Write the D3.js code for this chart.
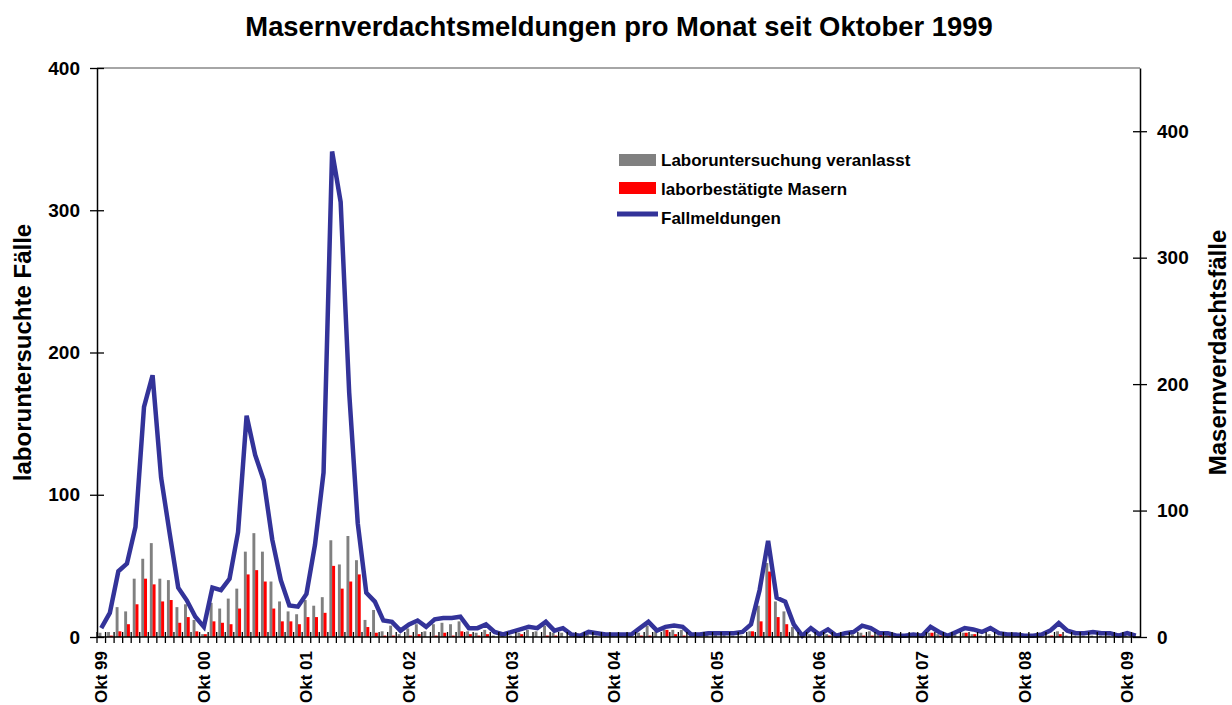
<!DOCTYPE html>
<html>
<head>
<meta charset="utf-8">
<script src="https://cdn.jsdelivr.net/npm/d3@7/dist/d3.min.js"></script>
<style>
  body { margin: 0; background: #fff; }
  svg { display: block; font-family: "Liberation Sans", Arial, sans-serif; font-weight: bold; }
</style>
</head>
<body>
<svg id="chart" width="1232" height="705"></svg>
<script>
// tick labels on the x axis (every October)
const tickLabels = ["Okt 99", "Okt 00", "Okt 01", "Okt 02", "Okt 03", "Okt 04",
  "Okt 05", "Okt 06", "Okt 07", "Okt 08", "Okt 09"];

// Laboruntersuchung veranlasst (left axis)
const labTests = [3, 3.5, 21, 18, 41, 55, 66, 41, 40, 21, 23, 12,
  2, 24, 20, 27, 34, 60, 73, 60, 39, 25, 18, 16,
  26, 22, 28, 68, 51, 71, 54, 12, 19, 4, 8, 2,
  6, 9, 4, 9, 10, 9, 11, 4, 3, 5, 1, 1,
  1, 3, 5, 4, 8, 3, 3, 1, 2, 2, 1, 1,
  1, 1, 1, 3, 8, 4, 5, 5, 5, 1, 1, 2,
  2, 2, 1, 1, 4, 22, 52, 25, 18, 7, 1, 2,
  1, 2, 2, 1, 2, 3, 4, 3, 2, 1, 1, 2,
  1, 3, 2, 1, 2, 3, 2, 1, 2, 1, 1, 1,
  1, 1, 1, 1, 4, 1, 1, 1, 1, 1, 1, 1,
  1, 1];

// laborbestätigte Masern (left axis)
const labConfirmed = [0, 1, 4, 9, 23, 41, 37, 25, 26, 10, 14, 4,
  2, 11, 10, 9, 20, 44, 47, 39, 20, 11, 11, 9,
  14, 14, 17, 50, 34, 39, 44, 7, 3, 1, 1, 0,
  1, 2, 0, 1, 3, 1, 4, 2, 1, 2, 0, 0,
  0, 2, 0, 0, 1, 1, 0, 0, 0, 0, 0, 0,
  0, 0, 0, 1, 1, 0, 5, 2, 1, 0, 0, 0,
  0, 0, 0, 0, 4, 11, 46, 14, 9, 0, 0, 0,
  0, 1, 1, 0, 0, 1, 1, 3, 1, 0, 0, 0,
  0, 3, 1, 0, 0, 3, 2, 0, 0, 0, 0, 0,
  0, 0, 0, 1, 2, 0, 0, 0, 0, 0, 0, 0,
  0, 0];

// Fallmeldungen (right axis)
const caseReports = [7, 19, 52, 58, 87, 182, 207, 126, 82, 39, 29, 16,
  8, 39, 37, 46, 83, 175, 144, 124, 77, 45, 25, 24,
  34, 73, 130, 384, 344, 193, 90, 35, 28, 13, 12, 5,
  10, 13, 8, 14, 15, 15, 16, 7, 7, 10, 4, 2,
  4, 6, 8, 7, 12, 5, 7, 2, 1, 4, 3, 2,
  2, 2, 2, 7, 12, 5, 8, 9, 8, 2, 2, 3,
  3, 3, 3, 4, 10, 37, 76, 31, 28, 10, 1, 7,
  2, 6, 1, 3, 4, 9, 7, 3, 3, 1, 1, 2,
  1, 8, 4, 1, 4, 7, 6, 4, 7, 3, 2, 2,
  1, 1, 2, 5, 11, 5, 3, 3, 4, 3, 3, 1,
  3, 1];

const leftTicks = [0, 100, 200, 300, 400];
const rightTicks = [0, 100, 200, 300, 400];

// month categories, Okt 99 .. Nov 09
const monthNames = ["Okt", "Nov", "Dez", "Jan", "Feb", "Mrz", "Apr", "Mai", "Jun", "Jul", "Aug", "Sep"];
const months = caseReports.map((d, i) => {
  const yr = (99 + Math.floor((i + 3) / 12)) % 100;
  return monthNames[i % 12] + " " + String(yr).padStart(2, "0");
});

const svg = d3.select("#chart");
const margin = { top: 68, right: 92, bottom: 68, left: 97 };
const width = 1232 - margin.left - margin.right;
const height = 705 - margin.top - margin.bottom;

const g = svg.append("g").attr("transform", `translate(${margin.left},${margin.top})`);

const xScale = d3.scaleBand().domain(months).range([0, width]).padding(0);
const yLeft = d3.scaleLinear().domain([0, 400]).range([height, 0]);
const yRight = d3.scaleLinear().domain([0, 450]).range([height, 0]);
const bw = xScale.bandwidth();

// title
svg.append("text")
  .attr("x", 619)
  .attr("y", 36)
  .attr("text-anchor", "middle")
  .attr("font-size", "27.4px")
  .text("Masernverdachtsmeldungen pro Monat seit Oktober 1999");

// top border of the plot area
g.append("line")
  .attr("x1", 0).attr("x2", width)
  .attr("y1", 0).attr("y2", 0)
  .attr("stroke", "#888").attr("stroke-width", 1.5);

// bars
g.selectAll(".gray")
  .data(labTests)
  .join("rect")
  .attr("class", "gray")
  .attr("x", (d, i) => xScale(months[i]) + bw * 0.18)
  .attr("y", (d) => yLeft(d))
  .attr("width", bw * 0.34)
  .attr("height", (d) => height - yLeft(d))
  .attr("fill", "#808080");

g.selectAll(".red")
  .data(labConfirmed)
  .join("rect")
  .attr("class", "red")
  .attr("x", (d, i) => xScale(months[i]) + bw * 0.5)
  .attr("y", (d) => yLeft(d))
  .attr("width", bw * 0.35)
  .attr("height", (d) => height - yLeft(d))
  .attr("fill", "#ff0000");

// line
const line = d3.line()
  .x((d, i) => xScale(months[i]) + bw / 2)
  .y((d) => yRight(d));

g.append("path")
  .datum(caseReports)
  .attr("d", line)
  .attr("fill", "none")
  .attr("stroke", "#333399")
  .attr("stroke-width", 4.5)
  .attr("stroke-linejoin", "miter");

// left axis
const leftAxis = g.append("g")
  .call(d3.axisLeft(yLeft).tickValues(leftTicks).tickSizeInner(7).tickSizeOuter(0).tickPadding(10));
leftAxis.select(".domain").attr("stroke", "#000").attr("stroke-width", 1.5);
leftAxis.selectAll(".tick line").attr("x2", 7).attr("x1", -7).attr("stroke-width", 1.3);
leftAxis.selectAll("text").attr("font-size", "19px").attr("font-weight", "bold").attr("font-family", "inherit").attr("fill", "#000");

// right axis
const rightAxis = g.append("g")
  .attr("transform", `translate(${width},0)`)
  .call(d3.axisRight(yRight).tickValues(rightTicks).tickSizeInner(7).tickSizeOuter(0).tickPadding(10));
rightAxis.select(".domain").attr("stroke", "#000").attr("stroke-width", 1.5);
rightAxis.selectAll(".tick line").attr("x1", -7).attr("x2", 7).attr("stroke-width", 1.3);
rightAxis.selectAll("text").attr("font-size", "19px").attr("font-weight", "bold").attr("font-family", "inherit").attr("fill", "#000");

// x axis: ticks on every month boundary
const xAxis = g.append("g").attr("transform", `translate(0,${height})`);
xAxis.append("line")
  .attr("x1", 0).attr("x2", width)
  .attr("stroke", "#000").attr("stroke-width", 1.5);
xAxis.selectAll(".mtick")
  .data(months)
  .join("line")
  .attr("class", "mtick")
  .attr("x1", (d) => xScale(d)).attr("x2", (d) => xScale(d))
  .attr("y1", -5).attr("y2", 6)
  .attr("stroke", "#000").attr("stroke-width", 1.3);

xAxis.selectAll(".xlabel")
  .data(tickLabels)
  .join("text")
  .attr("class", "xlabel")
  .attr("transform", (d) => `translate(${xScale(d) + bw / 2 + 6},14) rotate(-90)`)
  .attr("text-anchor", "end")
  .attr("font-size", "17px")
  .text((d) => d);

// axis titles
svg.append("text")
  .attr("transform", `translate(31,${margin.top + height / 2}) rotate(-90)`)
  .attr("text-anchor", "middle")
  .attr("font-size", "24px")
  .text("laboruntersuchte Fälle");

svg.append("text")
  .attr("transform", `translate(1226,${margin.top + height / 2}) rotate(-90)`)
  .attr("text-anchor", "middle")
  .attr("font-size", "24px")
  .text("Masernverdachtsfälle");

// legend
const legend = svg.append("g").attr("transform", "translate(619,150)");
legend.append("rect").attr("x", 0).attr("y", 4).attr("width", 37).attr("height", 12).attr("fill", "#808080");
legend.append("text").attr("x", 42).attr("y", 15.5).attr("font-size", "17px").text("Laboruntersuchung veranlasst");
legend.append("rect").attr("x", 0).attr("y", 32).attr("width", 37).attr("height", 12).attr("fill", "#ff0000");
legend.append("text").attr("x", 42).attr("y", 44.5).attr("font-size", "17px").text("laborbestätigte Masern");
legend.append("line").attr("x1", -2).attr("x2", 39).attr("y1", 64).attr("y2", 64).attr("stroke", "#333399").attr("stroke-width", 5);
legend.append("text").attr("x", 42).attr("y", 73.5).attr("font-size", "17px").text("Fallmeldungen");
</script>
</body>
</html>
